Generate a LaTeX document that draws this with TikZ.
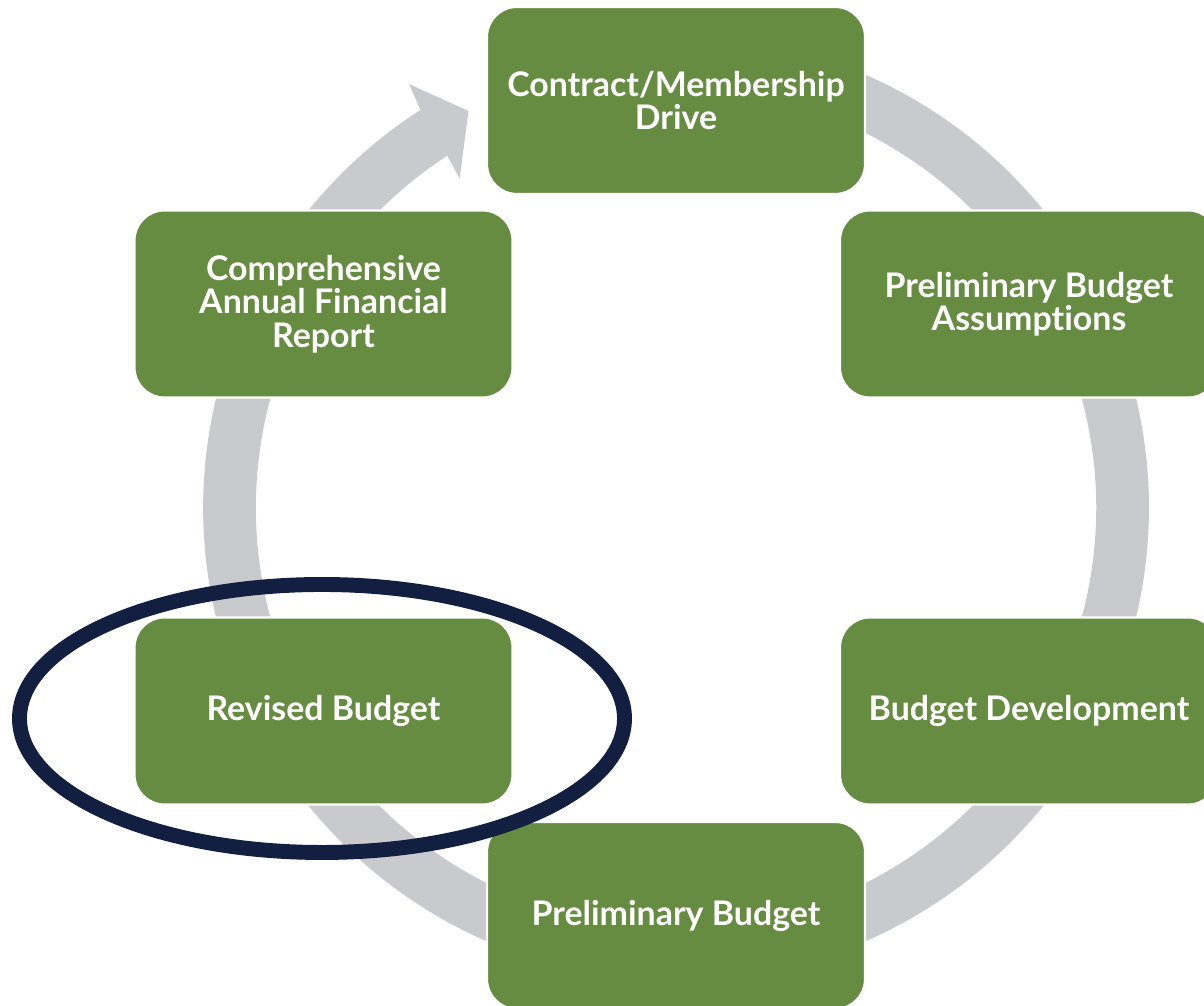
\documentclass[tikz,border=0pt]{standalone}
\usepackage{fontspec}
\setmainfont{Lato}[Ligatures=NoCommon]
\definecolor{leaf}{RGB}{102,140,65}
\definecolor{ringgray}{RGB}{201,202,206}
\definecolor{navy}{RGB}{18,31,64}

\begin{document}
\begin{tikzpicture}[x=0.02cm, y=0.02cm,
    stage/.style={fill=leaf, draw=white, line width=1.2pt, rounded corners=17pt,
        minimum width=7.56cm, minimum height=3.74cm, align=center,
        text=white, font=\fontsize{19.3}{19}\selectfont\bfseries},
    ring/.style={draw=ringgray, line width=30pt}]

    \useasboundingbox (0,0) rectangle (1204,1006);

    % grey cycle, centre of the ring
    \begin{scope}[shift={(676,498)}]
        \draw[ring] (112:446.5) arc[start angle=112, end angle=-200, radius=446.5];
        \fill[ringgray] (160:473) arc[start angle=160, end angle=122.7, radius=473]
            -- (122.2:501) -- (117.6:448) -- (123.3:394) -- (123.0:420)
            arc[start angle=123.0, end angle=160, radius=420] -- cycle;
    \end{scope}

    \node[stage] (drive)   at (676,905.5)  {Contract/Membership\\Drive};
    \node[stage] (assume)  at (1029,702)   {Preliminary Budget\\Assumptions};
    \node[stage] (develop) at (1029,295)   {Budget Development};
    \node[stage] (prelim)  at (676,90.5)   {Preliminary Budget};
    \node[stage] (revised) at (323.5,295)  {Revised Budget};
    \node[stage] (cafr)    at (323.5,702)  {Comprehensive\\Annual Financial\\Report};

    % highlight
    \draw[navy, line width=8.5pt] (322,287.5) ellipse[x radius=302.5, y radius=134];

\end{tikzpicture}
\end{document}
